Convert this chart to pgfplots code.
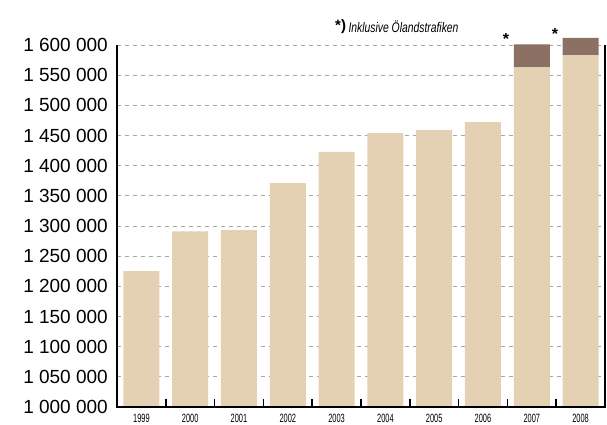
\documentclass[border=0pt]{standalone}
\usepackage{fontspec}
\setmainfont{Liberation Sans}
\newfontfamily\narrow[FakeStretch=0.62]{Liberation Sans}
\newfontfamily\narrowb[FakeStretch=0.74]{Liberation Sans}
\usepackage{pgfplots}
\pgfplotsset{compat=1.18}
\definecolor{beige}{HTML}{E4D1B3}
\definecolor{brownb}{HTML}{8B7063}
\begin{document}
\begin{tikzpicture}
\begin{axis}[
  at={(0,0)}, anchor=south west,
  scale only axis, width=488bp, height=380.1bp,
  xmin=-0.5, xmax=9.5, ymin=1000000, ymax=1630000,
  ybar stacked, bar width=36bp,
  xtick={0,...,9}, xticklabels={1999,2000,2001,2002,2003,2004,2005,2006,2007,2008},
  major x tick style={draw=none},
  minor xtick={0.5,1.5,...,8.5},
  minor tick length=8bp, tick align=inside, xtick pos=bottom,
  minor x tick style={black, line width=1.6bp},
  ytick={1000000,1050000,...,1600000},
  ymajorgrids,
  major grid style={black!35, dash pattern=on 4bp off 4bp, line width=0.7bp},
  major y tick style={draw=none},
  ytick pos=left,
  scaled y ticks=false,
  yticklabel style={font=\fontsize{19bp}{19bp}\selectfont, anchor=east, inner sep=0pt, xshift=-9bp,
    /pgf/number format/.cd, fixed, 1000 sep={\ }, assume math mode=true},
  xticklabel style={font=\narrow\fontsize{12bp}{12bp}\selectfont, anchor=north, inner sep=0pt, yshift=-6.5bp},
  axis line style={draw=none},
  clip=true,
]
\addplot[fill=beige, draw=none] coordinates {
  (0,1225000) (1,1291000) (2,1293000) (3,1371000) (4,1423000)
  (5,1454000) (6,1459000) (7,1472000) (8,1563000) (9,1583000)};
\addplot[fill=brownb, draw=none] coordinates {
  (0,0) (1,0) (2,0) (3,0) (4,0) (5,0) (6,0) (7,0) (8,38000) (9,29000)};
\coordinate (TL) at (axis cs:-0.5,1600000);
\coordinate (BL) at (axis cs:-0.5,1000000);
\coordinate (BR) at (axis cs:9.5,1000000);
\coordinate (TR) at (axis cs:9.5,1600000);
\end{axis}
\draw[black, line width=2bp] (TL) -- (BL) -- (BR) -- (TR);
\node[anchor=base, inner sep=0pt, font=\bfseries\fontsize{16bp}{16bp}\selectfont] at (389bp,362bp) {*};
\node[anchor=base, inner sep=0pt, font=\bfseries\fontsize{16bp}{16bp}\selectfont] at (438bp,367.5bp) {*};
\node[anchor=base west, inner sep=0pt] at (218bp,374bp)
  {\bfseries\fontsize{15bp}{15bp}\selectfont\raisebox{2bp}{*)}\,\mdseries\narrowb\itshape\fontsize{14bp}{14bp}\selectfont Inklusive Ölandstrafiken};
\pgfresetboundingbox
\path[use as bounding box] (-117bp,-18bp) rectangle (490bp,407bp);
\end{tikzpicture}
\end{document}
